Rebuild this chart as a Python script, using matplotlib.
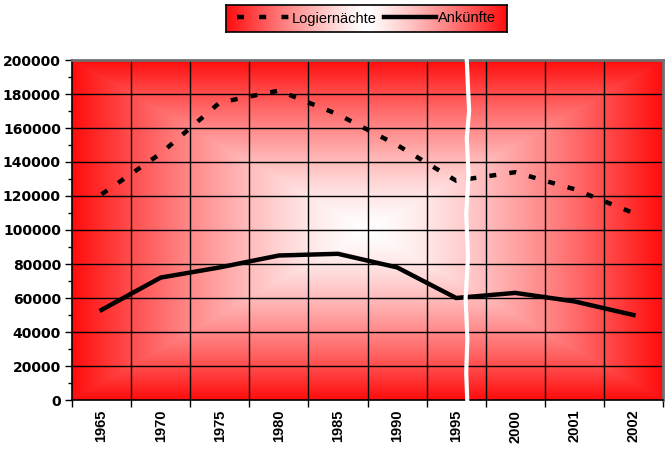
import numpy as np
import matplotlib
matplotlib.use("Agg")
import matplotlib.pyplot as plt
from matplotlib.lines import Line2D

years = ["1965", "1970", "1975", "1980", "1985", "1990", "1995", "2000", "2001", "2002"]
logiernaechte = [121000, 145000, 175000, 182000, 168000, 150000, 129000, 134000, 124000, 110000]
ankuenfte = [53000, 72000, 78000, 85000, 86000, 78000, 60000, 63000, 58000, 50000]

plt.rcParams['lines.scale_dashes'] = False

W, H = 665, 450
fig = plt.figure(figsize=(W / 100, H / 100), dpi=100)
fig.patch.set_facecolor("white")

L, R, T, B = 72, 663, 60, 400
ax = fig.add_axes([L / W, 1 - B / H, (R - L) / W, (B - T) / H])

n = len(years)
x = np.arange(n) + 0.5

# rectangular "from center" gradient background
red = np.array([1.0, 0.05, 0.05])
white = np.array([1.0, 1.0, 1.0])
u = np.linspace(0, 1, 400)
v = np.linspace(0, 1, 300)
U, V = np.meshgrid(u, v)
t = np.maximum(np.abs(U - 0.5) / 0.5, np.abs(V - 0.5) / 0.5)
t = np.clip(t, 0, 1) ** 1.4
img = white[None, None, :] * (1 - t[..., None]) + red[None, None, :] * t[..., None]
ax.imshow(img, extent=[0, 1, 0, 1], transform=ax.transAxes, aspect="auto", zorder=0,
          interpolation="bilinear")

ax.set_xlim(0, n)
ax.set_ylim(0, 200000)

# grid
for yv in range(20000, 200001, 20000):
    ax.axhline(yv, color="black", lw=1.0, zorder=1)
for xv in range(1, n):
    ax.axvline(xv, color="black", lw=1.0, zorder=1)

ax.plot(x, logiernaechte, color="black", lw=3.2, linestyle=(0, (5, 9.5)),
        dash_capstyle="butt", zorder=3)
ax.plot(x, ankuenfte, color="black", lw=3.2, solid_joinstyle="miter", zorder=3)

# break mark
bx = [0.668, 0.670, 0.672, 0.668, 0.671, 0.667, 0.670, 0.666, 0.669, 0.667, 0.669]
by = [1.0, 0.92, 0.85, 0.77, 0.66, 0.55, 0.42, 0.30, 0.18, 0.08, -0.01]
ax.plot(bx, by, color="white", lw=3.0, transform=ax.transAxes, zorder=4, clip_on=False)

# ticks
ax.set_yticks(np.arange(0, 200001, 20000))
ax.set_yticks(np.arange(10000, 200000, 20000), minor=True)
ax.set_yticklabels([str(v) for v in range(0, 200001, 20000)],
                   fontsize=10, fontweight="bold", family="DejaVu Sans")
ax.tick_params(axis="y", which="major", direction="out", length=5, width=1, pad=3)
ax.tick_params(axis="y", which="minor", direction="out", length=3, width=1)

ax.set_xticks(np.arange(0, n + 1))
ax.set_xticklabels([""] * (n + 1))
ax.set_xticks(x, minor=True)
ax.set_xticklabels(years, minor=True, rotation=90, fontsize=10.5, fontweight="bold",
                   family="Liberation Sans")
ax.tick_params(axis="x", which="major", direction="out", length=5, width=1)
ax.tick_params(axis="x", which="minor", length=0, pad=7)

for s in ["left", "bottom"]:
    ax.spines[s].set_color("black")
    ax.spines[s].set_linewidth(1.2)
for s in ["top", "right"]:
    ax.spines[s].set_color("#707070")
    ax.spines[s].set_linewidth(2)

# legend with gradient box
lx0, lx1, ly0, ly1 = 226, 507, 5, 32
lax = fig.add_axes([lx0 / W, 1 - ly1 / H, (lx1 - lx0) / W, (ly1 - ly0) / H])
uu = np.linspace(0, 1, 400)
tt = (np.abs(uu - 0.5) / 0.5) ** 1.2
limg = white[None, :] * (1 - tt[:, None]) + red[None, :] * tt[:, None]
limg = np.repeat(limg[None, :, :], 10, axis=0)
lax.imshow(limg, extent=[0, 1, 0, 1], aspect="auto", transform=lax.transAxes)
lax.set_xticks([])
lax.set_yticks([])
for s in lax.spines.values():
    s.set_color("black")
    s.set_linewidth(1.2)
handles = [
    Line2D([], [], color="black", lw=3.2, linestyle=(0, (5, 11)), dash_capstyle="butt"),
    Line2D([], [], color="black", lw=3.2),
]
lax.legend(handles, ["Logiernächte", "Ankünfte"], loc="center", ncol=2, frameon=False,
           prop={"family": "Liberation Sans", "size": 10.5}, handlelength=3.6,
           handletextpad=0.15, columnspacing=0.5, borderpad=0)

fig.savefig("out.png", dpi=100)
